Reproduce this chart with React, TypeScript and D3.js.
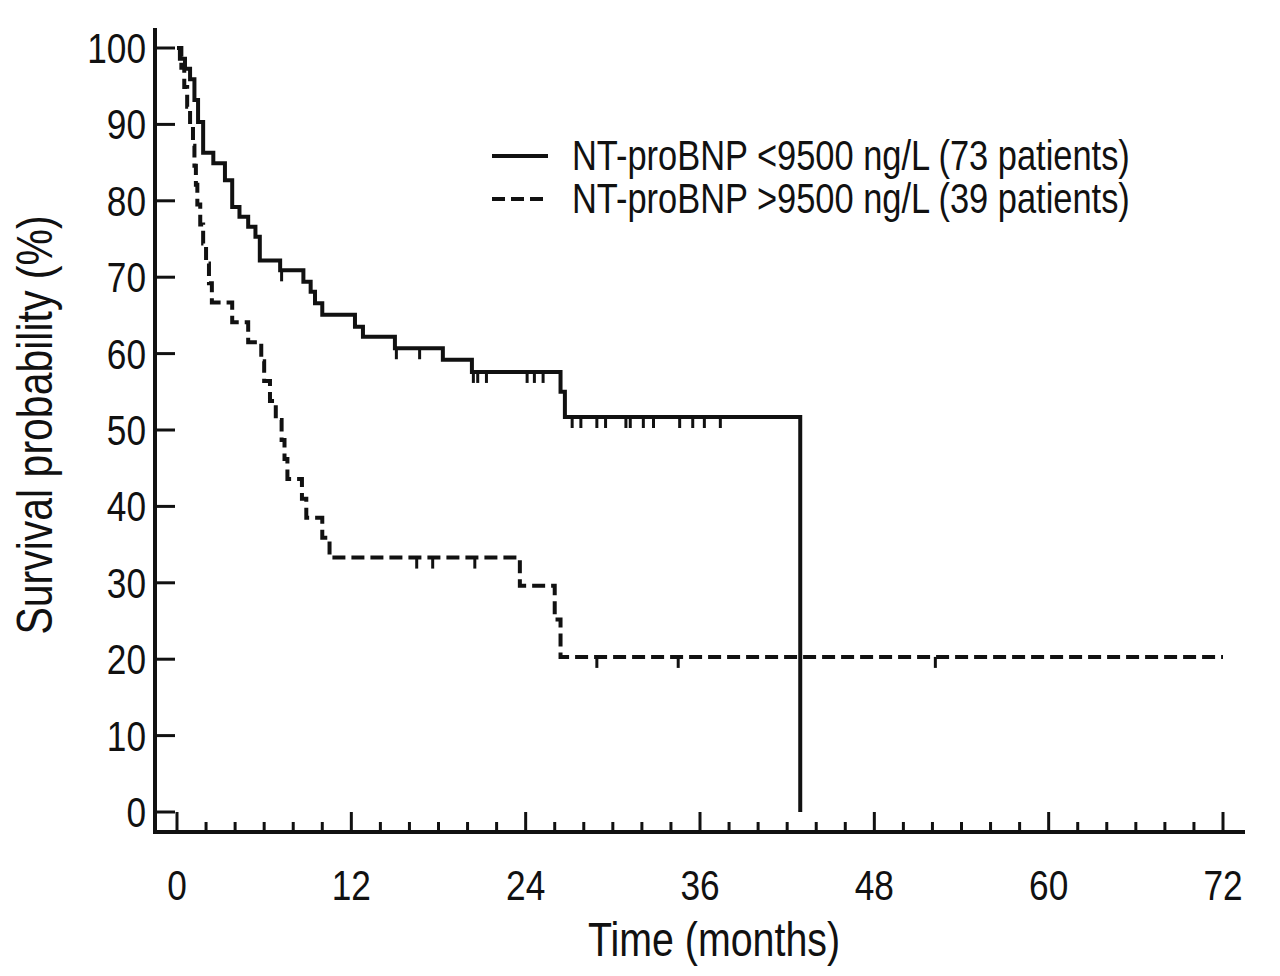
import React, { useEffect, useRef } from 'react';
import * as d3 from 'd3';

type Step = [number, number];

// Kaplan-Meier steps: [time in months, survival %]
const lowSteps: Step[] = [
  [0, 100], [0.2, 98.6], [0.55, 97.3], [0.9, 95.9], [1.2, 93.2], [1.45, 90.3],
  [1.8, 86.3], [2.5, 84.9], [3.3, 82.7], [3.8, 79.2], [4.3, 77.9], [4.9, 76.6],
  [5.4, 75.3], [5.7, 72.2], [7.1, 70.9], [8.7, 69.4], [9.2, 68.1], [9.5, 66.6],
  [10.0, 65.1], [12.25, 63.5], [12.8, 62.2], [15.0, 60.7], [18.3, 59.2],
  [20.3, 57.6], [26.4, 55.0], [26.7, 51.7], [42.9, 0],
];
const lowCensored = [
  7.2, 15.1, 16.7, 20.4, 20.7, 21.3, 24.1, 24.6, 25.2, 27.2, 27.8, 28.9, 29.5,
  30.9, 31.2, 32.1, 32.8, 34.6, 35.5, 36.3, 37.4,
];

const highSteps: Step[] = [
  [0, 100], [0.3, 97.4], [0.5, 94.9], [0.7, 92.3], [0.9, 89.7], [1.1, 87.2],
  [1.2, 84.6], [1.3, 82.1], [1.4, 79.5], [1.6, 76.9], [1.8, 74.4], [2.0, 71.8],
  [2.2, 69.2], [2.4, 66.7], [3.8, 64.1], [4.9, 61.5], [5.8, 59.0], [6.0, 56.4],
  [6.4, 53.8], [6.8, 51.3], [7.2, 48.7], [7.4, 46.2], [7.6, 43.6], [8.6, 41.0],
  [8.9, 38.5], [10.0, 35.9], [10.5, 33.3], [23.6, 29.6], [26.0, 25.2],
  [26.4, 20.3], [72, 20.3],
];
const highCensored = [16.5, 17.6, 20.5, 28.9, 34.5, 52.2];

const xMajorTicks = [0, 12, 24, 36, 48, 60, 72];
const yTicks = [0, 10, 20, 30, 40, 50, 60, 70, 80, 90, 100];
const legendLabels = [
  'NT-proBNP <9500 ng/L (73 patients)',
  'NT-proBNP >9500 ng/L (39 patients)',
];

// narrow look: Arial-metric font squeezed horizontally
const FONT = "'Liberation Sans', Arial, sans-serif";
const SQUEEZE = 0.82;
const INK = '#111';

const survivalAt = (steps: Step[], t: number) => {
  let s = steps[0][1];
  for (const [time, value] of steps) {
    if (time <= t) s = value;
  }
  return s;
};

const App: React.FC = () => {
  const svgRef = useRef<SVGSVGElement>(null);
  const width = 1280;
  const height = 976;

  useEffect(() => {
    if (!svgRef.current) return;
    const svg = d3.select(svgRef.current);
    svg.selectAll('*').remove();

    const x = d3.scaleLinear().domain([0, 72]).range([177, 1223]);
    const y = d3.scaleLinear().domain([0, 100]).range([812, 48]);
    const axisY = 832;
    const axisX = 155;

    const label = (
      parent: d3.Selection<any, unknown, null, undefined>,
      tx: number,
      ty: number,
      text: string,
      size: number,
      anchor: string,
      rotate = 0,
    ) =>
      parent
        .append('text')
        .attr('transform', `translate(${tx},${ty}) rotate(${rotate}) scale(${SQUEEZE},1)`)
        .attr('text-anchor', anchor)
        .attr('font-family', FONT)
        .attr('font-size', size)
        .attr('fill', INK)
        .text(text);

    // axes lines
    svg.append('line')
      .attr('x1', axisX).attr('x2', axisX)
      .attr('y1', 28).attr('y2', axisY + 2)
      .attr('stroke', INK).attr('stroke-width', 4);
    svg.append('line')
      .attr('x1', axisX - 2).attr('x2', 1245)
      .attr('y1', axisY).attr('y2', axisY)
      .attr('stroke', INK).attr('stroke-width', 4);

    // y ticks (inward)
    const yg = svg.append('g');
    yg.selectAll('line')
      .data(yTicks)
      .enter()
      .append('line')
      .attr('x1', axisX).attr('x2', axisX + 20)
      .attr('y1', (d) => y(d)).attr('y2', (d) => y(d))
      .attr('stroke', INK).attr('stroke-width', 3);
    yTicks.forEach((d) => label(yg, 146, y(d) + 15, String(d), 43, 'end'));

    // x ticks: minor every 3 months, major every 12
    const xg = svg.append('g');
    xg.selectAll('line')
      .data(x.ticks(24))
      .enter()
      .append('line')
      .attr('x1', (d) => x(d)).attr('x2', (d) => x(d))
      .attr('y1', axisY).attr('y2', (d) => (d % 12 === 0 ? axisY - 20 : axisY - 10))
      .attr('stroke', INK).attr('stroke-width', 3);
    xMajorTicks.forEach((d) => label(xg, x(d), 900, String(d), 43, 'middle'));

    // axis titles
    label(svg, 714, 956, 'Time (months)', 48, 'middle');
    label(svg, 52, 425, 'Survival probability (%)', 50, 'middle', -90);

    // survival curves
    const line = d3
      .line<Step>()
      .x((d) => x(d[0]))
      .y((d) => y(d[1]))
      .curve(d3.curveStepAfter);

    const series = [
      { steps: lowSteps, censored: lowCensored, dash: null as string | null },
      { steps: highSteps, censored: highCensored, dash: '13,6' },
    ];

    series.forEach((s) => {
      svg.append('path')
        .datum(s.steps)
        .attr('fill', 'none')
        .attr('stroke', INK)
        .attr('stroke-width', 4)
        .attr('stroke-dasharray', s.dash)
        .attr('d', line);

      svg.append('g')
        .selectAll('line')
        .data(s.censored)
        .enter()
        .append('line')
        .attr('x1', (d) => x(d)).attr('x2', (d) => x(d))
        .attr('y1', (d) => y(survivalAt(s.steps, d)))
        .attr('y2', (d) => y(survivalAt(s.steps, d)) + 11)
        .attr('stroke', INK)
        .attr('stroke-width', 3);
    });

    // legend
    const legend = svg.append('g');
    legendLabels.forEach((text, i) => {
      const ly = 156 + i * 43;
      legend.append('line')
        .attr('x1', 492).attr('x2', 548)
        .attr('y1', ly).attr('y2', ly)
        .attr('stroke', INK)
        .attr('stroke-width', 4)
        .attr('stroke-dasharray', i === 1 ? '13,6' : null);
      label(legend, 572, ly + 14, text, 42, 'start');
    });
  }, []);

  return (
    <div style={{ position: 'absolute', left: 0, top: 0 }}>
      <svg ref={svgRef} width={width} height={height} style={{ display: 'block', background: '#fff' }} />
    </div>
  );
};

export default App;
